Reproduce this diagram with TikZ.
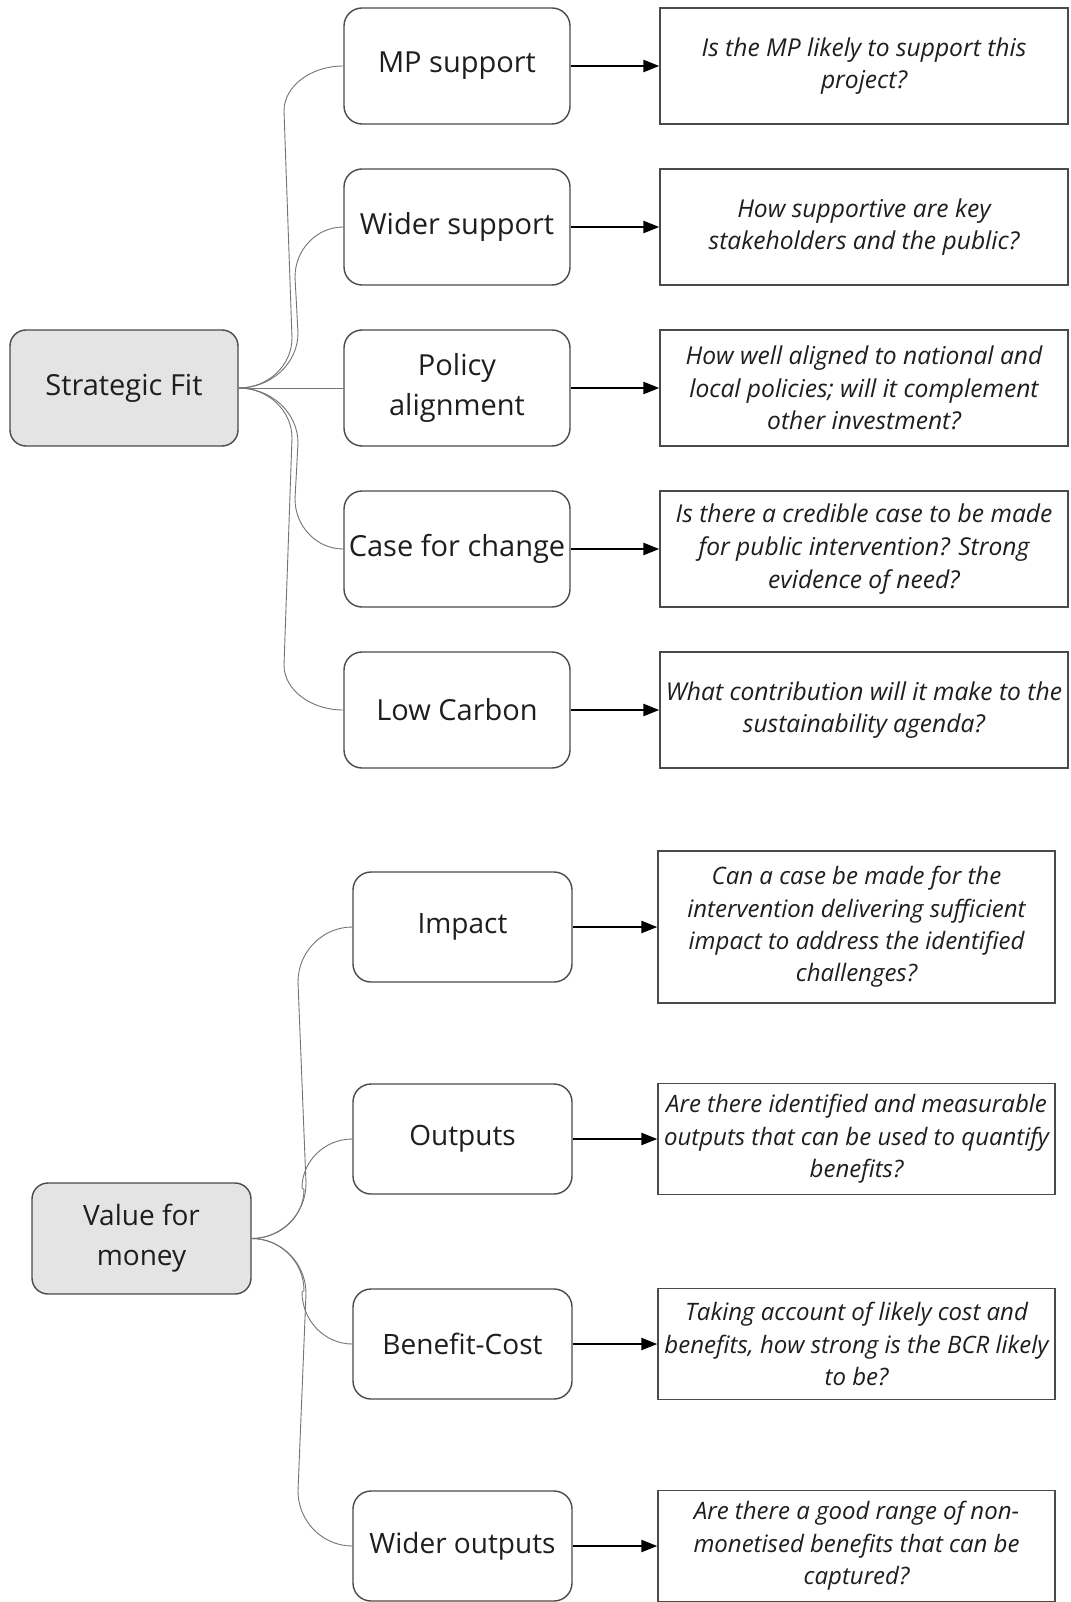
\documentclass[tikz,border=0pt]{standalone}
\usepackage{fontspec}
\setmainfont{Open Sans}
\usetikzlibrary{calc,arrows.meta}
\definecolor{edgegray}{HTML}{4A4A4A}
\definecolor{hubfill}{HTML}{E4E4E4}
\definecolor{branchgray}{HTML}{747474}
\definecolor{txt}{HTML}{1E1E1E}
\newcommand\curvedlink[6]{%
  \draw[branch] let \p1=(#1), \p2=(#2), \n1={sign(\y2-\y1)} in
  (\p1) .. controls ({\x1+0.55*(#3pt-\x1)},\y1) and (#3pt,{\y1+\n1*0.45*#5pt}) .. (#3pt,{\y1+\n1*#5pt})
  -- (#4pt,{\y2-\n1*#6pt}) .. controls (#4pt,{\y2-\n1*0.45*#6pt}) and ({\x2-0.55*(\x2-#4pt)},\y2) .. (\p2);}
\begin{document}
\begin{tikzpicture}[x=1pt,y=-1pt,
  every node/.style={text=txt},
  hub/.style={draw=edgegray, line width=1.4pt, rounded corners=16pt, fill=hubfill, align=center, inner sep=0pt},
  sub/.style={draw=edgegray, line width=1.4pt, rounded corners=18pt, fill=white, align=center, inner sep=0pt},
  ques/.style={draw=edgegray, line width=1.4pt, fill=white, align=center, inner sep=0pt},
  toplabel/.style={font=\fontsize{29}{40}\selectfont},
  botlabel/.style={font=\fontsize{28}{40}\selectfont},
  topsub/.style={sub, toplabel, minimum width=226pt, minimum height=116pt},
  topques/.style={ques, font=\itshape\fontsize{24.6}{32.7}\selectfont, minimum width=408pt, minimum height=116pt},
  botsub/.style={sub, botlabel, minimum width=219pt, minimum height=110pt},
  botques/.style={ques, font=\itshape\fontsize{24}{32.4}\selectfont, minimum width=397pt, minimum height=111pt},
  branch/.style={draw=branchgray, line width=0.9pt},
  link/.style={draw=black, line width=2.4pt, -{Triangle[length=16pt,width=12pt]}},
]
\useasboundingbox (0,0) rectangle (1070,1602);
\fill[white] (0,0) rectangle (1070,1602);

% ---- Strategic Fit group ----
\node[hub, toplabel, minimum width=228pt, minimum height=116pt] (sf) at (124,388) {Strategic Fit};
\node[topsub] (mp)  at (457,66)  {MP support};
\node[topsub] (ws)  at (457,227) {Wider support};
\node[topsub] (pa)  at (457,388) {Policy\\alignment};
\node[topsub] (cc)  at (457,549) {Case for change};
\node[topsub] (lc)  at (457,710) {Low Carbon};

\node[topques] (qmp) at (864,66)  {Is the MP likely to support this\\project?};
\node[topques] (qws) at (864,227) {How supportive are key\\stakeholders and the public?};
\node[topques] (qpa) at (864,388) {How well aligned to national and\\local policies; will it complement\\other investment?};
\node[topques] (qcc) at (864,549) {Is there a credible case to be made\\for public intervention? Strong\\evidence of need?};
\node[topques] (qlc) at (864,710) {What contribution will it make to the\\sustainability agenda?};

\curvedlink{sf.east}{mp.west}{292}{284}{50}{45}
\curvedlink{sf.east}{ws.west}{298}{295}{55}{50}
\draw[branch] (sf.east) -- (pa.west);
\curvedlink{sf.east}{cc.west}{298}{295}{55}{50}
\curvedlink{sf.east}{lc.west}{292}{284}{50}{45}

\draw[link] (mp) -- (qmp);
\draw[link] (ws) -- (qws);
\draw[link] (pa) -- (qpa);
\draw[link] (cc) -- (qcc);
\draw[link] (lc) -- (qlc);

% ---- Value for money group ----
\node[hub, botlabel, minimum width=219pt, minimum height=111pt] (vm) at (141.5,1238.5) {Value for\\money};
\node[botsub] (im) at (462.5,927)  {Impact};
\node[botsub] (ou) at (462.5,1139) {Outputs};
\node[botsub] (bc) at (462.5,1344) {Benefit-Cost};
\node[botsub] (wo) at (462.5,1546) {Wider outputs};

\node[botques, minimum height=152pt] (qim) at (856.5,927) {Can a case be made for the\\intervention delivering sufficient\\impact to address the identified\\challenges?};
\node[botques] (qou) at (856.5,1139) {Are there identified and measurable\\outputs that can be used to quantify\\benefits?};
\node[botques] (qbc) at (856.5,1344) {Taking account of likely cost and\\benefits, how strong is the BCR likely\\to be?};
\node[botques] (qwo) at (856.5,1546) {Are there a good range of non-\\monetised benefits that can be\\captured?};

\curvedlink{vm.east}{im.west}{306}{298}{55}{55}
\curvedlink{vm.east}{ou.west}{304}{302}{49}{49}
\curvedlink{vm.east}{bc.west}{304}{302}{52}{52}
\curvedlink{vm.east}{wo.west}{306}{298}{55}{55}

\draw[link] (im) -- (qim);
\draw[link] (ou) -- (qou);
\draw[link] (bc) -- (qbc);
\draw[link] (wo) -- (qwo);
\end{tikzpicture}
\end{document}
